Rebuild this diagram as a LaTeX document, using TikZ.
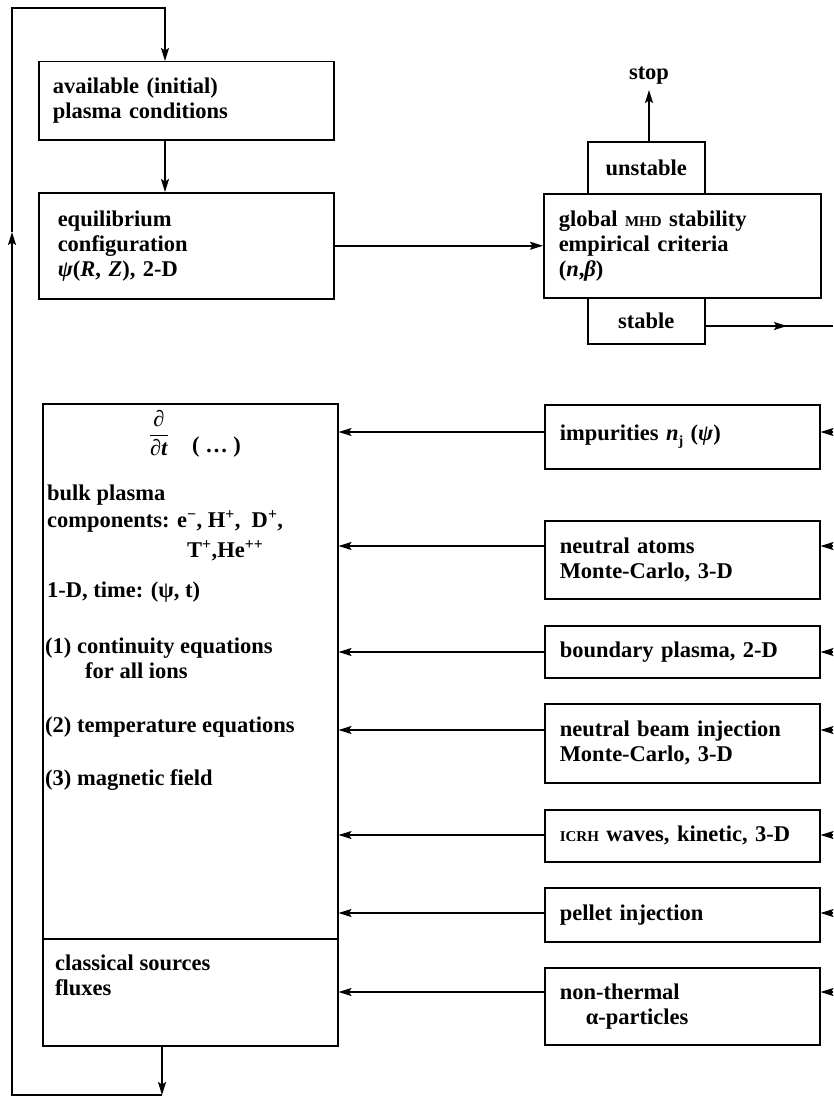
\documentclass[tikz,border=0pt]{standalone}
\usepackage{fontspec}
\setmainfont{Liberation Serif}
\usetikzlibrary{arrows.meta}
\newcommand{\smc}[1]{{\fontsize{15}{15}\selectfont #1}}
\begin{document}
\begin{tikzpicture}[x=1pt,y=-1pt,
  every node/.style={font=\fontsize{22.5}{25}\selectfont\bfseries},
  box/.style={draw,line width=1.5pt,anchor=north west,align=left,inner ysep=0pt},
  sbox/.style={draw,line width=1.5pt,anchor=north west,inner sep=0pt},
  rbox/.style={box,inner xsep=15pt,text width=245pt},
  arr/.style={line width=1.5pt,-{Stealth[length=13pt,width=8pt,inset=2.5pt]}},
  ln/.style={line width=1.5pt},
  txt/.style={anchor=base west,inner sep=0pt}]
\useasboundingbox (0,0) rectangle (833,1097);

% left column
\node[box,inner xsep=14pt,text width=267pt,minimum height=78pt] (avail) at (38,61) {available (initial)\\plasma conditions};
\node[box,inner xsep=19pt,text width=257pt,minimum height=106pt] (equil) at (38,192) {equilibrium\\configuration\\\textit{ψ}(\textit{R}, \textit{Z}), 2-D};

% stability
\node[box,inner xsep=15pt,text width=247pt,minimum height=104pt] (stab) at (543,193) {global \smc{MHD} stability\\empirical criteria\\(\textit{n},\textit{β})};
\node[sbox,minimum width=117pt,minimum height=52pt] (unst) at (587,141) {unstable};
\node[sbox,minimum width=117pt,minimum height=46pt] (stbl) at (587,297) {stable};
\node[anchor=base,inner sep=0pt] (stop) at (649,80) {stop};

% big box
\node[sbox,minimum width=295pt,minimum height=642pt] (bulk) at (42,403) {};
\draw[ln] (bulk.west |- 0,939) -- (bulk.east |- 0,939);
\node[inner sep=0pt] (ddt) at (159,433) {$\displaystyle\frac{\mbox{∂}}{\mbox{∂\textit{t}}}$};
\node[txt] (dots) at (192,452) {( … )};
\node[txt,align=left,font=\fontsize{22.5}{27}\selectfont\bfseries] (bulk1) at (47,557)
  {\lineskiplimit=-100pt bulk plasma\\components: e\textsuperscript{−}, H\textsuperscript{+}, \ D\textsuperscript{+},\\[3pt]\hspace*{140pt}T\textsuperscript{+},He\textsuperscript{++}};
\node[txt] (time) at (47,597) {1-D, time: (ψ, t)};
\node[txt,align=left] (eq1) at (45,678) {(1) continuity equations\\\hspace*{40pt}for all ions};
\node[txt] (eq2) at (45,732) {(2) temperature equations};
\node[txt] (eq3) at (45,785) {(3) magnetic field};
\node[txt,align=left] (cls) at (55,995) {classical sources\\fluxes};

% right boxes
\node[rbox,minimum height=64pt] (imp) at (544,404) {impurities \textit{n}\raisebox{-5pt}{\fontsize{14}{14}\selectfont j} (\textit{ψ})};
\node[rbox,minimum height=78pt] (neut) at (544,520) {neutral atoms\\Monte-Carlo, 3-D};
\node[rbox,minimum height=52pt] (bnd) at (544,625) {boundary plasma, 2-D};
\node[rbox,minimum height=79pt] (nbi) at (544,703) {neutral beam injection\\Monte-Carlo, 3-D};
\node[rbox,minimum height=52pt] (icrh) at (544,809) {\smc{ICRH} waves, kinetic, 3-D};
\node[rbox,minimum height=54pt] (pel) at (544,887) {pellet injection};
\node[rbox,minimum height=77pt] (nth) at (544,967) {non-thermal\\\hspace*{26pt}α-particles};

% coordinates of the loop
\coordinate (tt) at (165,8);
\coordinate (lt) at (12,8);
\coordinate (lm) at (12,232);
\coordinate (lb) at (12,1095);
\coordinate (bb) at (162,1095);
\coordinate (stoptip) at (649,90);
\coordinate (sm) at (787,326);
\coordinate (sr) at (833,326);

% loop
\draw[arr] (bulk.south -| bb) -- (bb);
\draw[arr,line join=miter] (bb) -- (lb) -- (lm);
\draw[arr,line join=miter] (lm) -- (lt) -- (tt) -- (avail.north -| tt);
\draw[arr] (avail.south -| tt) -- (equil.north -| tt);
\draw[arr] (equil.east) -- (stab.west |- equil.east);
\draw[arr] (unst.north -| stoptip) -- (stoptip);
\draw[ln] (stbl.east |- sm) -- (sr);
\draw[arr] (stbl.east |- sm) -- (sm);

% inputs to the transport box
\foreach \b/\y in {imp/432,neut/546,bnd/652,nbi/730,icrh/835,pel/913,nth/992}{
  \coordinate (r\b) at (833,\y);
  \draw[arr] (\b.west |- r\b) -- (bulk.east |- r\b);
  \draw[arr] (r\b) -- (\b.east |- r\b);
}
\end{tikzpicture}
\end{document}
